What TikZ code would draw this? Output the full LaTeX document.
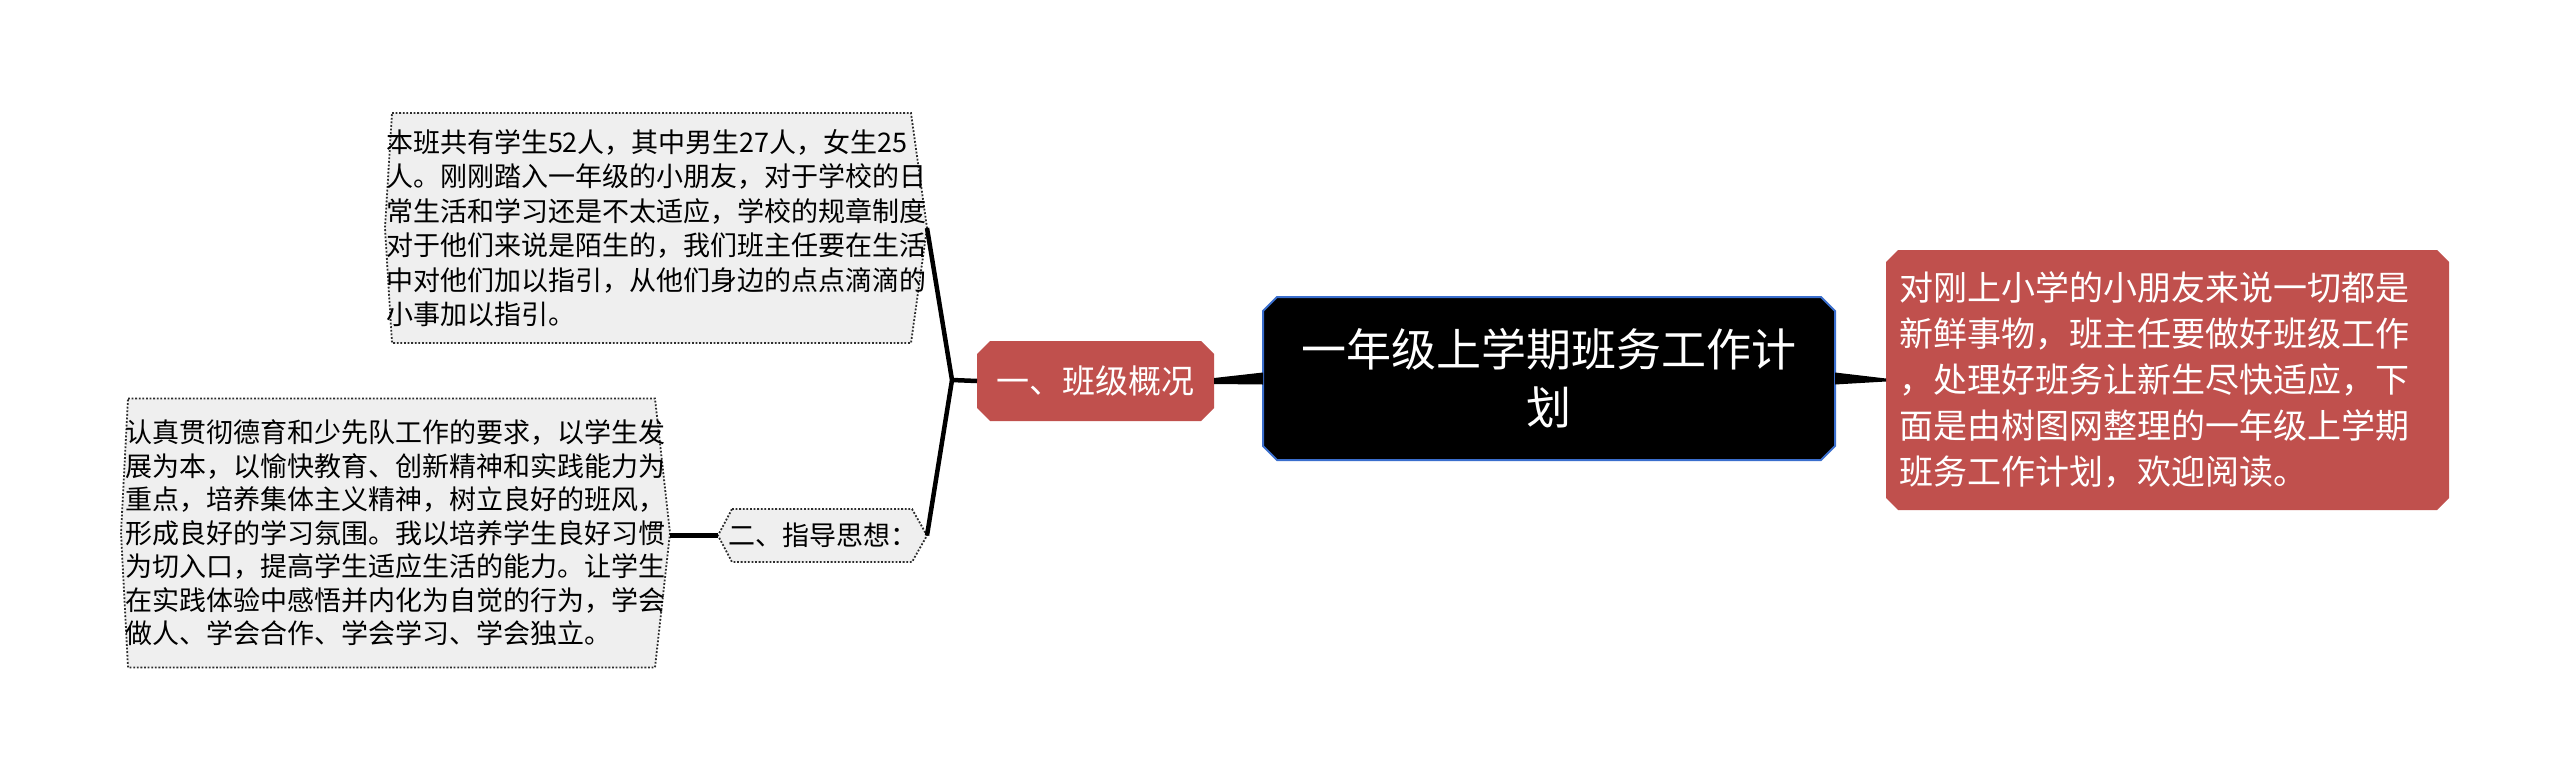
\documentclass[tikz,border=0pt]{standalone}
\usepackage{fontspec}
\newfontfamily\cjk{Noto Sans CJK SC}
\usetikzlibrary{backgrounds,calc}
\definecolor{nodered}{RGB}{192,80,77}
\definecolor{rootblue}{RGB}{58,110,205}
\definecolor{leafgray}{RGB}{239,239,239}
\definecolor{dotgray}{RGB}{45,45,45}
\tikzset{
  basenode/.style={inner sep=0pt, outer sep=0pt},
  rootnode/.style={basenode, text=white, minimum width=572pt, minimum height=163pt, align=center, font=\cjk\fontsize{45}{58}\selectfont},
  introbox/.style={basenode, text=white, inner xsep=13pt, text width=537pt, minimum height=260pt, align=left, font=\cjk\fontsize{34}{46}\selectfont},
  redlabel/.style={basenode, text=white, minimum width=237pt, minimum height=80pt, align=center, font=\cjk\fontsize{33}{40}\selectfont},
  greylabel/.style={basenode, text=black, minimum width=209pt, minimum height=53pt, align=center, font=\cjk\fontsize{27}{34}\selectfont},
  leaftext/.style={basenode, text=black, align=left, font=\cjk\fontsize{27}{34.5}\selectfont},
  rootshape/.style={fill=black, draw=rootblue, line width=2pt, line join=miter},
  redshape/.style={fill=nodered},
  leafshape/.style={fill=leafgray, draw=dotgray, line width=1.8pt, dash pattern=on 1.8pt off 1.8pt},
  conn/.style={draw=black, line width=4.5pt, line join=miter},
  taper/.style={fill=black}
}
\begin{document}
\begin{tikzpicture}[x=1pt,y=-1pt]
\useasboundingbox (0,0) rectangle (2560,777);

\node[rootnode] (root) at (1549,378.5) {一年级上学期班务工作计\\划};
\node[introbox] (intro) at (2167.5,380) {对刚上小学的小朋友来说一切都是\\新鲜事物，班主任要做好班级工作\\，处理好班务让新生尽快适应，下\\面是由树图网整理的一年级上学期\\班务工作计划，欢迎阅读。};
\node[redlabel] (n1) at (1095.5,381) {一、班级概况};
\node[greylabel] (n2) at (822.5,535.5) {二、指导思想：};
\node[leaftext, text width=540pt, inner xsep=1pt, minimum height=230pt] (tl) at (656,228) {本班共有学生52人，其中男生27人，女生25\\人。刚刚踏入一年级的小朋友，对于学校的日\\常生活和学习还是不太适应，学校的规章制度\\对于他们来说是陌生的，我们班主任要在生活\\中对他们加以指引，从他们身边的点点滴滴的\\小事加以指引。};
\node[leaftext, text width=540pt, inner xsep=4.5pt, minimum height=269pt, font=\cjk\fontsize{27}{33.5}\selectfont] (bl) at (395.5,533) {认真贯彻德育和少先队工作的要求，以学生发\\展为本，以愉快教育、创新精神和实践能力为\\重点，培养集体主义精神，树立良好的班风，\\形成良好的学习氛围。我以培养学生良好习惯\\为切入口，提高学生适应生活的能力。让学生\\在实践体验中感悟并内化为自觉的行为，学会\\做人、学会合作、学会学习、学会独立。};
\coordinate (br) at (952,380);

\begin{scope}[on background layer]
  \fill[white] (0,0) rectangle (2560,777);
  % root
  \path[rootshape] ([xshift=14pt]root.north west) -- ([xshift=-14pt]root.north east) -- ([yshift=-14pt]root.north east) -- ([yshift=14pt]root.south east) -- ([xshift=-14pt]root.south east) -- ([xshift=14pt]root.south west) -- ([yshift=14pt]root.south west) -- ([yshift=-14pt]root.north west) -- cycle;
  % intro
  \path[redshape] ([xshift=12pt]intro.north west) -- ([xshift=-12pt]intro.north east) -- ([yshift=-12pt]intro.north east) -- ([yshift=12pt]intro.south east) -- ([xshift=-12pt]intro.south east) -- ([xshift=12pt]intro.south west) -- ([yshift=12pt]intro.south west) -- ([yshift=-12pt]intro.north west) -- cycle;
  % n1
  \path[redshape] ([xshift=13pt]n1.north west) -- ([xshift=-13pt]n1.north east) -- ([yshift=-13pt]n1.north east) -- ([yshift=13pt]n1.south east) -- ([xshift=-13pt]n1.south east) -- ([xshift=13pt]n1.south west) -- ([yshift=13pt]n1.south west) -- ([yshift=-13pt]n1.north west) -- cycle;
  % n2
  \path[leafshape] ([xshift=14pt]n2.north west) -- ([xshift=-15pt]n2.north east) -- (n2.east) -- ([xshift=-15pt]n2.south east) -- ([xshift=14pt]n2.south west) -- (n2.west) -- cycle;
  % top leaf
  \path[leafshape] ([xshift=7pt]tl.north west) -- ([xshift=-16pt]tl.north east) -- (tl.east) -- ([xshift=-16pt]tl.south east) -- ([xshift=7pt]tl.south west) -- (tl.west) -- cycle;
  % bottom leaf
  \path[leafshape] ([xshift=7pt]bl.north west) -- ([xshift=-15pt]bl.north east) -- (bl.east) -- ([xshift=-15pt]bl.south east) -- ([xshift=7pt]bl.south west) -- (bl.west) -- cycle;
\end{scope}

% connectors
\fill[taper] ([yshift=6pt]root.east) -- ([yshift=1.5pt]intro.west) -- ([yshift=-1.5pt]intro.west) -- ([yshift=-6pt]root.east) -- cycle;
\fill[taper] ([yshift=6pt]root.west) -- ([yshift=3pt]n1.east) -- ([yshift=-3pt]n1.east) -- ([yshift=-6pt]root.west) -- cycle;
\path[conn] (n1.west) -- (br);
\path[conn] (tl.east) -- (br) -- (n2.east);
\path[conn] (n2.west) -- (n2.west -| bl.east);
\end{tikzpicture}
\end{document}
